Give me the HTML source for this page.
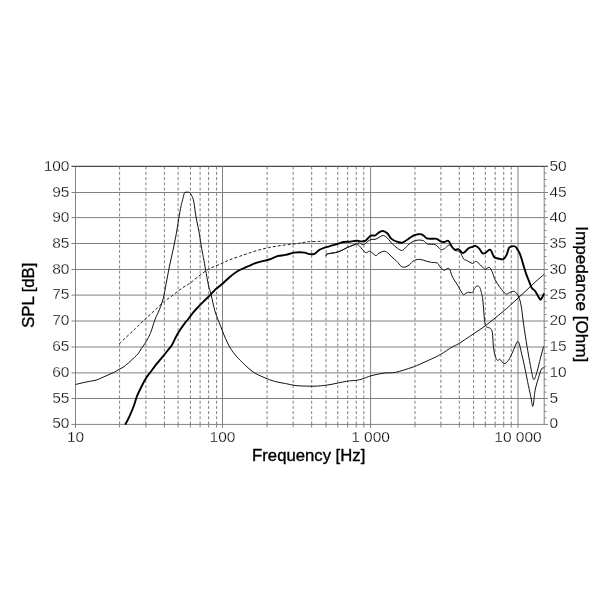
<!DOCTYPE html>
<html><head><meta charset="utf-8"><style>html,body{margin:0;padding:0;background:#fff;width:610px;height:610px;overflow:hidden}svg{display:block;will-change:transform}</style></head>
<body><svg width="610" height="610" viewBox="0 0 610 610">
<rect width="610" height="610" fill="#fff"/>
<g><line x1="71.50" y1="166.35" x2="548.00" y2="166.35" stroke="#4a4a4a" stroke-width="1.25" /><line x1="71.50" y1="192.50" x2="548.00" y2="192.50" stroke="#808080" stroke-width="1" /><line x1="71.50" y1="217.60" x2="548.00" y2="217.60" stroke="#808080" stroke-width="1" /><line x1="71.50" y1="243.50" x2="548.00" y2="243.50" stroke="#808080" stroke-width="1" /><line x1="71.50" y1="269.50" x2="548.00" y2="269.50" stroke="#808080" stroke-width="1" /><line x1="71.50" y1="295.10" x2="548.00" y2="295.10" stroke="#808080" stroke-width="1" /><line x1="71.50" y1="321.00" x2="548.00" y2="321.00" stroke="#808080" stroke-width="1" /><line x1="71.50" y1="347.00" x2="548.00" y2="347.00" stroke="#808080" stroke-width="1" /><line x1="71.50" y1="372.90" x2="548.00" y2="372.90" stroke="#808080" stroke-width="1" /><line x1="71.50" y1="398.50" x2="548.00" y2="398.50" stroke="#808080" stroke-width="1" /><line x1="71.50" y1="424.40" x2="548.00" y2="424.40" stroke="#808080" stroke-width="1" /><line x1="119.60" y1="166.70" x2="119.60" y2="424.40" stroke="#808080" stroke-width="1" stroke-dasharray="3 2.2"/><line x1="119.60" y1="424.40" x2="119.60" y2="427.40" stroke="#808080" stroke-width="1" /><line x1="145.90" y1="166.70" x2="145.90" y2="424.40" stroke="#808080" stroke-width="1" stroke-dasharray="3 2.2"/><line x1="145.90" y1="424.40" x2="145.90" y2="427.40" stroke="#808080" stroke-width="1" /><line x1="164.40" y1="166.70" x2="164.40" y2="424.40" stroke="#808080" stroke-width="1" stroke-dasharray="3 2.2"/><line x1="164.40" y1="424.40" x2="164.40" y2="427.40" stroke="#808080" stroke-width="1" /><line x1="178.10" y1="166.70" x2="178.10" y2="424.40" stroke="#808080" stroke-width="1" stroke-dasharray="3 2.2"/><line x1="178.10" y1="424.40" x2="178.10" y2="427.40" stroke="#808080" stroke-width="1" /><line x1="190.40" y1="166.70" x2="190.40" y2="424.40" stroke="#808080" stroke-width="1" stroke-dasharray="3 2.2"/><line x1="190.40" y1="424.40" x2="190.40" y2="427.40" stroke="#808080" stroke-width="1" /><line x1="200.10" y1="166.70" x2="200.10" y2="424.40" stroke="#808080" stroke-width="1" stroke-dasharray="3 2.2"/><line x1="200.10" y1="424.40" x2="200.10" y2="427.40" stroke="#808080" stroke-width="1" /><line x1="208.60" y1="166.70" x2="208.60" y2="424.40" stroke="#808080" stroke-width="1" stroke-dasharray="3 2.2"/><line x1="208.60" y1="424.40" x2="208.60" y2="427.40" stroke="#808080" stroke-width="1" /><line x1="216.60" y1="166.70" x2="216.60" y2="424.40" stroke="#808080" stroke-width="1" stroke-dasharray="3 2.2"/><line x1="216.60" y1="424.40" x2="216.60" y2="427.40" stroke="#808080" stroke-width="1" /><line x1="267.08" y1="166.70" x2="267.08" y2="424.40" stroke="#808080" stroke-width="1" stroke-dasharray="3 2.2"/><line x1="267.08" y1="424.40" x2="267.08" y2="427.40" stroke="#808080" stroke-width="1" /><line x1="293.16" y1="166.70" x2="293.16" y2="424.40" stroke="#808080" stroke-width="1" stroke-dasharray="3 2.2"/><line x1="293.16" y1="424.40" x2="293.16" y2="427.40" stroke="#808080" stroke-width="1" /><line x1="311.67" y1="166.70" x2="311.67" y2="424.40" stroke="#808080" stroke-width="1" stroke-dasharray="3 2.2"/><line x1="311.67" y1="424.40" x2="311.67" y2="427.40" stroke="#808080" stroke-width="1" /><line x1="326.02" y1="166.70" x2="326.02" y2="424.40" stroke="#808080" stroke-width="1" stroke-dasharray="3 2.2"/><line x1="326.02" y1="424.40" x2="326.02" y2="427.40" stroke="#808080" stroke-width="1" /><line x1="337.74" y1="166.70" x2="337.74" y2="424.40" stroke="#808080" stroke-width="1" stroke-dasharray="3 2.2"/><line x1="337.74" y1="424.40" x2="337.74" y2="427.40" stroke="#808080" stroke-width="1" /><line x1="347.66" y1="166.70" x2="347.66" y2="424.40" stroke="#808080" stroke-width="1" stroke-dasharray="3 2.2"/><line x1="347.66" y1="424.40" x2="347.66" y2="427.40" stroke="#808080" stroke-width="1" /><line x1="356.25" y1="166.70" x2="356.25" y2="424.40" stroke="#808080" stroke-width="1" stroke-dasharray="3 2.2"/><line x1="356.25" y1="424.40" x2="356.25" y2="427.40" stroke="#808080" stroke-width="1" /><line x1="363.82" y1="166.70" x2="363.82" y2="424.40" stroke="#808080" stroke-width="1" stroke-dasharray="3 2.2"/><line x1="363.82" y1="424.40" x2="363.82" y2="427.40" stroke="#808080" stroke-width="1" /><line x1="414.97" y1="166.70" x2="414.97" y2="424.40" stroke="#808080" stroke-width="1" stroke-dasharray="3 2.2"/><line x1="414.97" y1="424.40" x2="414.97" y2="427.40" stroke="#808080" stroke-width="1" /><line x1="440.93" y1="166.70" x2="440.93" y2="424.40" stroke="#808080" stroke-width="1" stroke-dasharray="3 2.2"/><line x1="440.93" y1="424.40" x2="440.93" y2="427.40" stroke="#808080" stroke-width="1" /><line x1="459.34" y1="166.70" x2="459.34" y2="424.40" stroke="#808080" stroke-width="1" stroke-dasharray="3 2.2"/><line x1="459.34" y1="424.40" x2="459.34" y2="427.40" stroke="#808080" stroke-width="1" /><line x1="473.63" y1="166.70" x2="473.63" y2="424.40" stroke="#808080" stroke-width="1" stroke-dasharray="3 2.2"/><line x1="473.63" y1="424.40" x2="473.63" y2="427.40" stroke="#808080" stroke-width="1" /><line x1="485.30" y1="166.70" x2="485.30" y2="424.40" stroke="#808080" stroke-width="1" stroke-dasharray="3 2.2"/><line x1="485.30" y1="424.40" x2="485.30" y2="427.40" stroke="#808080" stroke-width="1" /><line x1="495.17" y1="166.70" x2="495.17" y2="424.40" stroke="#808080" stroke-width="1" stroke-dasharray="3 2.2"/><line x1="495.17" y1="424.40" x2="495.17" y2="427.40" stroke="#808080" stroke-width="1" /><line x1="503.72" y1="166.70" x2="503.72" y2="424.40" stroke="#808080" stroke-width="1" stroke-dasharray="3 2.2"/><line x1="503.72" y1="424.40" x2="503.72" y2="427.40" stroke="#808080" stroke-width="1" /><line x1="511.26" y1="166.70" x2="511.26" y2="424.40" stroke="#808080" stroke-width="1" stroke-dasharray="3 2.2"/><line x1="511.26" y1="424.40" x2="511.26" y2="427.40" stroke="#808080" stroke-width="1" /><line x1="75.50" y1="166.40" x2="75.50" y2="427.90" stroke="#808080" stroke-width="1" /><line x1="222.50" y1="166.40" x2="222.50" y2="427.90" stroke="#808080" stroke-width="1" /><line x1="370.60" y1="166.40" x2="370.60" y2="427.90" stroke="#808080" stroke-width="1" /><line x1="518.00" y1="166.40" x2="518.00" y2="427.90" stroke="#808080" stroke-width="1" /><line x1="544.20" y1="166.40" x2="544.20" y2="424.40" stroke="#808080" stroke-width="1" /><line x1="544.20" y1="173.00" x2="546.50" y2="173.00" stroke="#808080" stroke-width="1" /><line x1="544.20" y1="179.50" x2="546.50" y2="179.50" stroke="#808080" stroke-width="1" /><line x1="544.20" y1="186.00" x2="546.50" y2="186.00" stroke="#808080" stroke-width="1" /><line x1="544.20" y1="198.78" x2="546.50" y2="198.78" stroke="#808080" stroke-width="1" /><line x1="544.20" y1="205.05" x2="546.50" y2="205.05" stroke="#808080" stroke-width="1" /><line x1="544.20" y1="211.32" x2="546.50" y2="211.32" stroke="#808080" stroke-width="1" /><line x1="544.20" y1="224.07" x2="546.50" y2="224.07" stroke="#808080" stroke-width="1" /><line x1="544.20" y1="230.55" x2="546.50" y2="230.55" stroke="#808080" stroke-width="1" /><line x1="544.20" y1="237.03" x2="546.50" y2="237.03" stroke="#808080" stroke-width="1" /><line x1="544.20" y1="250.00" x2="546.50" y2="250.00" stroke="#808080" stroke-width="1" /><line x1="544.20" y1="256.50" x2="546.50" y2="256.50" stroke="#808080" stroke-width="1" /><line x1="544.20" y1="263.00" x2="546.50" y2="263.00" stroke="#808080" stroke-width="1" /><line x1="544.20" y1="275.90" x2="546.50" y2="275.90" stroke="#808080" stroke-width="1" /><line x1="544.20" y1="282.30" x2="546.50" y2="282.30" stroke="#808080" stroke-width="1" /><line x1="544.20" y1="288.70" x2="546.50" y2="288.70" stroke="#808080" stroke-width="1" /><line x1="544.20" y1="301.58" x2="546.50" y2="301.58" stroke="#808080" stroke-width="1" /><line x1="544.20" y1="308.05" x2="546.50" y2="308.05" stroke="#808080" stroke-width="1" /><line x1="544.20" y1="314.52" x2="546.50" y2="314.52" stroke="#808080" stroke-width="1" /><line x1="544.20" y1="327.50" x2="546.50" y2="327.50" stroke="#808080" stroke-width="1" /><line x1="544.20" y1="334.00" x2="546.50" y2="334.00" stroke="#808080" stroke-width="1" /><line x1="544.20" y1="340.50" x2="546.50" y2="340.50" stroke="#808080" stroke-width="1" /><line x1="544.20" y1="353.48" x2="546.50" y2="353.48" stroke="#808080" stroke-width="1" /><line x1="544.20" y1="359.95" x2="546.50" y2="359.95" stroke="#808080" stroke-width="1" /><line x1="544.20" y1="366.42" x2="546.50" y2="366.42" stroke="#808080" stroke-width="1" /><line x1="544.20" y1="379.30" x2="546.50" y2="379.30" stroke="#808080" stroke-width="1" /><line x1="544.20" y1="385.70" x2="546.50" y2="385.70" stroke="#808080" stroke-width="1" /><line x1="544.20" y1="392.10" x2="546.50" y2="392.10" stroke="#808080" stroke-width="1" /><line x1="544.20" y1="404.98" x2="546.50" y2="404.98" stroke="#808080" stroke-width="1" /><line x1="544.20" y1="411.45" x2="546.50" y2="411.45" stroke="#808080" stroke-width="1" /><line x1="544.20" y1="417.92" x2="546.50" y2="417.92" stroke="#808080" stroke-width="1" /></g>
<g stroke-linejoin="round"><path d="M119.20 343.90 C120.27 342.88 123.40 339.88 125.60 337.80 C127.80 335.72 130.43 333.28 132.40 331.40 C134.37 329.52 135.30 328.53 137.40 326.50 C139.50 324.47 142.10 321.90 145.00 319.20 C147.90 316.50 151.52 313.33 154.80 310.30 C158.08 307.27 162.07 303.22 164.70 301.00 C167.33 298.78 168.48 298.57 170.60 297.00 C172.72 295.43 175.00 293.40 177.40 291.60 C179.80 289.80 182.92 287.58 185.00 286.20 C187.08 284.82 187.90 284.75 189.90 283.30 C191.90 281.85 194.38 279.55 197.00 277.50 C199.62 275.45 202.93 272.75 205.60 271.00 C208.27 269.25 210.20 268.30 213.00 267.00 C215.80 265.70 219.60 264.42 222.40 263.20 C225.20 261.98 226.92 260.85 229.80 259.70 C232.68 258.55 236.42 257.43 239.70 256.30 C242.98 255.17 246.23 253.97 249.50 252.90 C252.77 251.83 256.02 250.80 259.30 249.90 C262.58 249.00 265.92 248.18 269.20 247.50 C272.48 246.82 275.72 246.28 279.00 245.80 C282.28 245.32 285.62 245.02 288.90 244.60 C292.18 244.18 296.38 243.63 298.70 243.30 C301.02 242.97 301.13 242.87 302.80 242.60 C304.47 242.33 306.08 241.90 308.70 241.70 C311.32 241.50 315.95 241.52 318.50 241.40 C321.05 241.28 323.08 241.07 324.00 241.00" fill="none" stroke="#222" stroke-width="1" stroke-dasharray="3 2"/><path d="M75.50 384.50 C76.77 384.20 80.73 383.23 83.10 382.70 C85.47 382.17 87.52 381.73 89.70 381.30 C91.88 380.87 93.98 380.78 96.20 380.10 C98.42 379.42 100.90 378.10 103.00 377.20 C105.10 376.30 106.92 375.53 108.80 374.70 C110.68 373.87 112.57 373.12 114.30 372.20 C116.03 371.28 117.73 370.02 119.20 369.20 C120.67 368.38 121.55 368.35 123.10 367.30 C124.65 366.25 126.62 364.55 128.50 362.90 C130.38 361.25 132.77 358.97 134.40 357.40 C136.03 355.83 137.15 354.97 138.30 353.50 C139.45 352.03 140.15 350.32 141.30 348.60 C142.45 346.88 144.05 345.00 145.20 343.20 C146.35 341.40 147.22 339.75 148.20 337.80 C149.18 335.85 150.00 334.45 151.10 331.50 C152.20 328.55 153.68 323.13 154.80 320.10 C155.92 317.07 156.82 315.58 157.80 313.30 C158.78 311.02 159.80 308.87 160.70 306.40 C161.60 303.93 162.53 300.97 163.20 298.50 C163.87 296.03 164.22 294.05 164.70 291.60 C165.18 289.15 165.62 286.42 166.10 283.80 C166.58 281.18 167.03 278.87 167.60 275.90 C168.17 272.93 168.82 269.32 169.50 266.00 C170.18 262.68 170.97 259.33 171.70 256.00 C172.43 252.67 173.12 249.80 173.90 246.00 C174.68 242.20 175.58 237.80 176.40 233.20 C177.22 228.60 178.02 222.98 178.80 218.40 C179.58 213.82 180.47 208.80 181.10 205.70 C181.73 202.60 182.10 201.77 182.60 199.80 C183.10 197.83 183.68 195.13 184.10 193.90 C184.52 192.67 184.22 192.65 185.10 192.40 C185.98 192.15 188.33 191.92 189.40 192.40 C190.47 192.88 190.83 194.07 191.50 195.30 C192.17 196.53 192.92 198.07 193.40 199.80 C193.88 201.53 194.07 203.50 194.40 205.70 C194.73 207.90 194.98 210.38 195.40 213.00 C195.82 215.62 196.32 218.35 196.90 221.40 C197.48 224.45 198.25 227.70 198.90 231.30 C199.55 234.90 200.42 240.55 200.80 243.00 C201.18 245.45 200.77 243.58 201.20 246.00 C201.63 248.42 202.67 253.57 203.40 257.50 C204.13 261.43 204.77 265.02 205.60 269.60 C206.43 274.18 207.52 280.97 208.40 285.00 C209.28 289.03 210.15 290.85 210.90 293.80 C211.65 296.75 212.25 299.90 212.90 302.70 C213.55 305.50 213.98 307.82 214.80 310.60 C215.62 313.38 216.82 316.78 217.80 319.40 C218.78 322.02 219.72 323.83 220.70 326.30 C221.68 328.77 222.55 331.42 223.70 334.20 C224.85 336.98 226.38 340.50 227.60 343.00 C228.82 345.50 229.55 347.00 231.00 349.20 C232.45 351.40 234.00 353.60 236.30 356.20 C238.60 358.80 241.95 362.13 244.80 364.80 C247.65 367.47 250.20 370.08 253.40 372.20 C256.60 374.32 260.45 375.97 264.00 377.50 C267.55 379.03 271.15 380.40 274.70 381.40 C278.25 382.40 281.75 382.80 285.30 383.50 C288.85 384.20 292.45 385.17 296.00 385.60 C299.55 386.03 303.05 386.02 306.60 386.10 C310.15 386.18 313.40 386.35 317.30 386.10 C321.20 385.85 325.15 385.40 330.00 384.60 C334.85 383.80 342.03 382.02 346.40 381.30 C350.77 380.58 353.43 380.72 356.20 380.30 C358.97 379.88 360.53 379.55 363.00 378.80 C365.47 378.05 367.48 376.75 371.00 375.80 C374.52 374.85 380.00 373.68 384.10 373.10 C388.20 372.52 390.95 373.25 395.60 372.30 C400.25 371.35 407.88 368.78 412.00 367.40 C416.12 366.02 417.00 365.43 420.30 364.00 C423.60 362.57 428.42 360.40 431.80 358.80 C435.18 357.20 437.22 356.37 440.60 354.40 C443.98 352.43 449.03 348.82 452.10 347.00 C455.17 345.18 455.55 345.62 459.00 343.50 C462.45 341.38 468.40 337.27 472.80 334.30 C477.20 331.33 480.53 329.35 485.40 325.70 C490.27 322.05 497.80 315.85 502.00 312.40 C506.20 308.95 507.85 307.47 510.60 305.00 C513.35 302.53 515.77 300.13 518.50 297.60 C521.23 295.07 524.22 292.40 527.00 289.80 C529.78 287.20 532.33 284.60 535.20 282.00 C538.07 279.40 542.70 275.50 544.20 274.20" fill="none" stroke="#111" stroke-width="1"/><path d="M326.20 255.80 C326.27 255.52 325.58 254.55 326.60 254.10 C327.62 253.65 330.53 253.42 332.30 253.10 C334.07 252.78 335.57 252.68 337.20 252.20 C338.83 251.72 340.42 250.98 342.10 250.20 C343.78 249.42 345.08 248.48 347.30 247.50 C349.52 246.52 353.85 244.92 355.40 244.30 C356.95 243.68 355.95 243.55 356.60 243.80 C357.25 244.05 358.35 244.88 359.30 245.80 C360.25 246.72 361.23 248.15 362.30 249.30 C363.37 250.45 364.55 252.38 365.70 252.70 C366.85 253.02 368.13 251.20 369.20 251.20 C370.27 251.20 370.97 251.97 372.10 252.70 C373.23 253.43 374.87 255.52 376.00 255.60 C377.13 255.68 377.53 253.93 378.90 253.20 C380.27 252.47 382.67 251.20 384.20 251.20 C385.73 251.20 386.80 252.22 388.10 253.20 C389.40 254.18 390.58 255.78 392.00 257.10 C393.42 258.42 395.07 259.57 396.60 261.10 C398.13 262.63 399.77 265.32 401.20 266.30 C402.63 267.28 403.88 267.22 405.20 267.00 C406.52 266.78 407.58 266.10 409.10 265.00 C410.62 263.90 412.45 261.33 414.30 260.40 C416.15 259.47 418.23 259.28 420.20 259.40 C422.17 259.52 424.23 260.60 426.10 261.10 C427.97 261.60 429.53 262.08 431.40 262.40 C433.27 262.72 435.87 262.27 437.30 263.00 C438.73 263.73 438.90 265.60 440.00 266.80 C441.10 268.00 442.58 269.95 443.90 270.20 C445.22 270.45 446.92 268.38 447.90 268.30 C448.88 268.22 448.98 268.15 449.80 269.70 C450.62 271.25 451.57 275.13 452.80 277.60 C454.03 280.07 455.57 281.80 457.20 284.50 C458.83 287.20 461.37 292.17 462.60 293.80 C463.83 295.43 463.78 294.53 464.60 294.30 C465.42 294.07 466.18 292.72 467.50 292.40 C468.82 292.08 471.35 293.07 472.50 292.40 C473.65 291.73 473.58 289.47 474.40 288.40 C475.22 287.33 476.50 286.15 477.40 286.00 C478.30 285.85 479.15 286.43 479.80 287.50 C480.45 288.57 480.80 290.32 481.30 292.40 C481.80 294.48 482.27 295.42 482.80 300.00 C483.33 304.58 484.07 315.70 484.50 319.90 C484.93 324.10 484.97 323.97 485.40 325.20 C485.83 326.43 486.28 326.77 487.10 327.30 C487.92 327.83 489.42 327.50 490.30 328.40 C491.18 329.30 491.87 329.50 492.40 332.70 C492.93 335.90 492.97 343.52 493.50 347.60 C494.03 351.68 494.90 355.07 495.60 357.20 C496.30 359.33 496.98 360.05 497.70 360.40 C498.42 360.75 498.83 358.77 499.90 359.30 C500.97 359.83 502.68 363.42 504.10 363.60 C505.52 363.78 506.97 362.35 508.40 360.40 C509.83 358.45 511.28 354.92 512.70 351.90 C514.12 348.88 515.83 343.73 516.90 342.30 C517.97 340.87 518.38 341.70 519.10 343.30 C519.82 344.90 520.32 348.17 521.20 351.90 C522.08 355.63 523.33 360.73 524.40 365.70 C525.47 370.67 526.53 376.53 527.60 381.70 C528.67 386.87 529.92 392.60 530.80 396.70 C531.68 400.80 532.18 407.37 532.90 406.30 C533.62 405.23 534.20 394.93 535.10 390.30 C536.00 385.67 537.23 382.07 538.30 378.50 C539.37 374.93 540.47 370.67 541.50 368.90 C542.53 367.13 544.00 368.07 544.50 367.90" fill="none" stroke="#111" stroke-width="1"/><path d="M326.20 255.80 C326.27 255.52 325.58 254.55 326.60 254.10 C327.62 253.65 330.53 253.42 332.30 253.10 C334.07 252.78 335.57 252.68 337.20 252.20 C338.83 251.72 340.42 250.98 342.10 250.20 C343.78 249.42 345.08 248.48 347.30 247.50 C349.52 246.52 353.85 244.92 355.40 244.30 C356.95 243.68 355.95 244.03 356.60 243.80 C357.25 243.57 358.18 242.73 359.30 242.90 C360.42 243.07 361.98 244.97 363.30 244.80 C364.62 244.63 365.90 242.80 367.20 241.90 C368.50 241.00 369.80 239.82 371.10 239.40 C372.40 238.98 373.70 239.72 375.00 239.40 C376.30 239.08 377.58 238.15 378.90 237.50 C380.22 236.85 381.58 235.50 382.90 235.50 C384.22 235.50 385.50 236.42 386.80 237.50 C388.10 238.58 389.38 240.58 390.70 242.00 C392.02 243.42 393.17 244.68 394.70 246.00 C396.23 247.32 398.48 249.25 399.90 249.90 C401.32 250.55 401.88 250.67 403.20 249.90 C404.52 249.13 406.17 246.72 407.80 245.30 C409.43 243.88 411.25 242.27 413.00 241.40 C414.75 240.53 416.55 240.22 418.30 240.10 C420.05 239.98 421.97 240.05 423.50 240.70 C425.03 241.35 425.53 243.33 427.50 244.00 C429.47 244.67 433.12 243.82 435.30 244.70 C437.48 245.58 439.07 248.65 440.60 249.30 C442.13 249.95 443.20 249.27 444.50 248.60 C445.80 247.93 447.30 245.73 448.40 245.30 C449.50 244.87 450.03 245.15 451.10 246.00 C452.17 246.85 453.37 249.45 454.80 250.40 C456.23 251.35 458.23 250.28 459.70 251.70 C461.17 253.12 462.45 257.45 463.60 258.90 C464.75 260.35 465.12 259.65 466.60 260.40 C468.08 261.15 471.03 263.23 472.50 263.40 C473.97 263.57 474.43 261.48 475.40 261.40 C476.37 261.32 477.15 262.00 478.30 262.90 C479.45 263.80 481.15 265.73 482.30 266.80 C483.45 267.87 484.05 269.22 485.20 269.30 C486.35 269.38 488.05 266.90 489.20 267.30 C490.35 267.70 491.12 269.65 492.10 271.70 C493.08 273.75 493.78 276.98 495.10 279.60 C496.42 282.22 498.23 285.02 500.00 287.40 C501.77 289.78 504.22 292.97 505.70 293.90 C507.18 294.83 507.82 293.42 508.90 293.00 C509.98 292.58 511.10 291.53 512.20 291.40 C513.30 291.27 514.40 291.25 515.50 292.20 C516.60 293.15 517.85 294.80 518.80 297.10 C519.75 299.40 520.45 301.85 521.20 306.00 C521.95 310.15 522.58 316.85 523.30 322.00 C524.02 327.15 524.60 331.22 525.50 336.90 C526.40 342.58 527.63 350.05 528.70 356.10 C529.77 362.15 531.02 369.28 531.90 373.20 C532.78 377.12 533.12 379.95 534.00 379.60 C534.88 379.25 536.13 374.65 537.20 371.10 C538.27 367.55 539.33 362.40 540.40 358.30 C541.47 354.20 543.07 348.47 543.60 346.50" fill="none" stroke="#111" stroke-width="1"/><path d="M125.50 424.00 C126.08 422.88 127.65 420.22 129.00 417.30 C130.35 414.38 132.23 410.10 133.60 406.50 C134.97 402.90 135.75 399.28 137.20 395.70 C138.65 392.12 140.72 388.10 142.30 385.00 C143.88 381.90 145.23 379.40 146.70 377.10 C148.17 374.80 149.70 373.08 151.10 371.20 C152.50 369.32 153.62 367.68 155.10 365.80 C156.58 363.92 157.90 362.45 160.00 359.90 C162.10 357.35 165.72 352.98 167.70 350.50 C169.68 348.02 170.55 347.22 171.90 345.00 C173.25 342.78 174.48 339.65 175.80 337.20 C177.12 334.75 178.32 332.60 179.80 330.30 C181.28 328.00 183.23 325.37 184.70 323.40 C186.17 321.43 187.13 320.38 188.60 318.50 C190.07 316.62 191.85 314.07 193.50 312.10 C195.15 310.13 196.85 308.43 198.50 306.70 C200.15 304.97 201.77 303.35 203.40 301.70 C205.03 300.05 206.98 298.10 208.30 296.80 C209.62 295.50 210.18 295.05 211.30 293.90 C212.42 292.75 213.80 291.05 215.00 289.90 C216.20 288.75 217.27 288.02 218.50 287.00 C219.73 285.98 220.62 285.40 222.40 283.80 C224.18 282.20 226.75 279.45 229.20 277.40 C231.65 275.35 234.47 273.13 237.10 271.50 C239.73 269.87 243.02 268.52 245.00 267.60 C246.98 266.68 247.15 266.80 249.00 266.00 C250.85 265.20 253.83 263.62 256.10 262.80 C258.37 261.98 260.42 261.65 262.60 261.10 C264.78 260.55 266.73 260.32 269.20 259.50 C271.67 258.68 274.67 256.97 277.40 256.20 C280.13 255.43 282.87 255.50 285.60 254.90 C288.33 254.30 291.43 253.05 293.80 252.60 C296.17 252.15 297.98 252.20 299.80 252.20 C301.62 252.20 303.05 252.28 304.70 252.60 C306.35 252.92 308.05 253.90 309.70 254.10 C311.35 254.30 312.97 254.53 314.60 253.80 C316.23 253.07 317.87 250.72 319.50 249.70 C321.13 248.68 322.77 248.27 324.40 247.70 C326.03 247.13 327.67 246.78 329.30 246.30 C330.93 245.82 332.55 245.30 334.20 244.80 C335.85 244.30 337.63 243.77 339.20 243.30 C340.77 242.83 341.88 242.27 343.60 242.00 C345.32 241.73 347.87 241.85 349.50 241.70 C351.13 241.55 352.08 241.27 353.40 241.10 C354.72 240.93 356.08 240.65 357.40 240.70 C358.72 240.75 360.00 241.37 361.30 241.40 C362.60 241.43 364.05 241.47 365.20 240.90 C366.35 240.33 367.22 238.90 368.20 238.00 C369.18 237.10 370.00 235.90 371.10 235.50 C372.20 235.10 373.72 235.93 374.80 235.60 C375.88 235.27 376.58 234.22 377.60 233.50 C378.62 232.78 379.80 231.67 380.90 231.30 C382.00 230.93 383.10 230.93 384.20 231.30 C385.30 231.67 386.42 232.37 387.50 233.50 C388.58 234.63 389.62 236.93 390.70 238.10 C391.78 239.27 392.78 239.85 394.00 240.50 C395.22 241.15 396.68 241.63 398.00 242.00 C399.32 242.37 400.60 242.92 401.90 242.70 C403.20 242.48 404.38 241.57 405.80 240.70 C407.22 239.83 408.98 238.42 410.40 237.50 C411.82 236.58 412.98 235.75 414.30 235.20 C415.62 234.65 417.08 234.33 418.30 234.20 C419.52 234.07 420.62 234.08 421.60 234.40 C422.58 234.72 423.33 235.43 424.20 236.10 C425.07 236.77 425.60 237.95 426.80 238.40 C428.00 238.85 429.77 238.73 431.40 238.80 C433.03 238.87 435.07 238.37 436.60 238.80 C438.13 239.23 439.28 240.87 440.60 241.40 C441.92 241.93 443.20 242.12 444.50 242.00 C445.80 241.88 447.22 239.98 448.40 240.70 C449.58 241.42 450.53 244.82 451.60 246.30 C452.67 247.78 453.58 249.10 454.80 249.60 C456.02 250.10 457.52 248.72 458.90 249.30 C460.28 249.88 461.50 253.28 463.10 253.10 C464.70 252.92 466.93 249.25 468.50 248.20 C470.07 247.15 471.35 247.20 472.50 246.80 C473.65 246.40 474.27 245.48 475.40 245.80 C476.53 246.12 478.15 247.48 479.30 248.70 C480.45 249.92 481.32 252.37 482.30 253.10 C483.28 253.83 483.88 253.67 485.20 253.10 C486.52 252.53 488.72 249.05 490.20 249.70 C491.68 250.35 492.80 255.53 494.10 257.00 C495.40 258.47 496.48 258.13 498.00 258.50 C499.52 258.87 501.78 259.77 503.20 259.20 C504.62 258.63 505.57 256.93 506.50 255.10 C507.43 253.27 508.03 249.63 508.80 248.20 C509.57 246.77 510.05 246.78 511.10 246.50 C512.15 246.22 514.05 246.02 515.10 246.50 C516.15 246.98 516.63 248.25 517.40 249.40 C518.17 250.55 518.93 251.60 519.70 253.40 C520.47 255.20 521.23 257.72 522.00 260.20 C522.77 262.68 523.53 265.80 524.30 268.30 C525.07 270.80 525.75 272.90 526.60 275.20 C527.45 277.50 528.55 280.00 529.40 282.10 C530.25 284.20 530.73 286.28 531.70 287.80 C532.67 289.32 534.05 289.67 535.20 291.20 C536.35 292.73 537.73 295.57 538.60 297.00 C539.47 298.43 539.82 299.72 540.40 299.80 C540.98 299.88 541.53 298.45 542.10 297.50 C542.67 296.55 543.52 294.67 543.80 294.10" fill="none" stroke="#000" stroke-width="1.9" stroke-linejoin="round" stroke-linecap="round"/></g>
<g font-family="'Liberation Sans', sans-serif" font-size="15.5" fill="#000" stroke="#fff" stroke-width="0.3"><text x="69.50" y="170.50" text-anchor="end" >100</text><text x="549.50" y="170.50" text-anchor="start" >50</text><text x="69.50" y="196.50" text-anchor="end" >95</text><text x="549.50" y="196.50" text-anchor="start" >45</text><text x="69.50" y="221.60" text-anchor="end" >90</text><text x="549.50" y="221.60" text-anchor="start" >40</text><text x="69.50" y="247.50" text-anchor="end" >85</text><text x="549.50" y="247.50" text-anchor="start" >35</text><text x="69.50" y="273.50" text-anchor="end" >80</text><text x="549.50" y="273.50" text-anchor="start" >30</text><text x="69.50" y="299.10" text-anchor="end" >75</text><text x="549.50" y="299.10" text-anchor="start" >25</text><text x="69.50" y="325.00" text-anchor="end" >70</text><text x="549.50" y="325.00" text-anchor="start" >20</text><text x="69.50" y="351.00" text-anchor="end" >65</text><text x="549.50" y="351.00" text-anchor="start" >15</text><text x="69.50" y="376.90" text-anchor="end" >60</text><text x="549.50" y="376.90" text-anchor="start" >10</text><text x="69.50" y="402.50" text-anchor="end" >55</text><text x="549.50" y="402.50" text-anchor="start" >5</text><text x="69.50" y="428.40" text-anchor="end" >50</text><text x="549.50" y="428.40" text-anchor="start" >0</text><text x="75.50" y="442.00" text-anchor="middle" >10</text><text x="222.50" y="442.00" text-anchor="middle" >100</text><text x="370.60" y="442.00" text-anchor="middle" >1 000</text><text x="518.00" y="442.00" text-anchor="middle" >10 000</text></g>
<text x="308.7" y="461.3" text-anchor="middle" textLength="113.2" lengthAdjust="spacingAndGlyphs" font-family="'Liberation Sans', sans-serif" font-size="17" fill="#000" stroke="#000" stroke-width="0.35">Frequency [Hz]</text>
<text transform="translate(33.8 295.25) rotate(-90)" text-anchor="middle" textLength="65.1" lengthAdjust="spacingAndGlyphs" font-family="'Liberation Sans', sans-serif" font-size="17" fill="#000" stroke="#000" stroke-width="0.35">SPL [dB]</text>
<text transform="translate(576.3 294.3) rotate(90)" text-anchor="middle" textLength="136.1" lengthAdjust="spacingAndGlyphs" font-family="'Liberation Sans', sans-serif" font-size="17.3" fill="#000" stroke="#000" stroke-width="0.35">Impedance [Ohm]</text>
</svg></body></html>
